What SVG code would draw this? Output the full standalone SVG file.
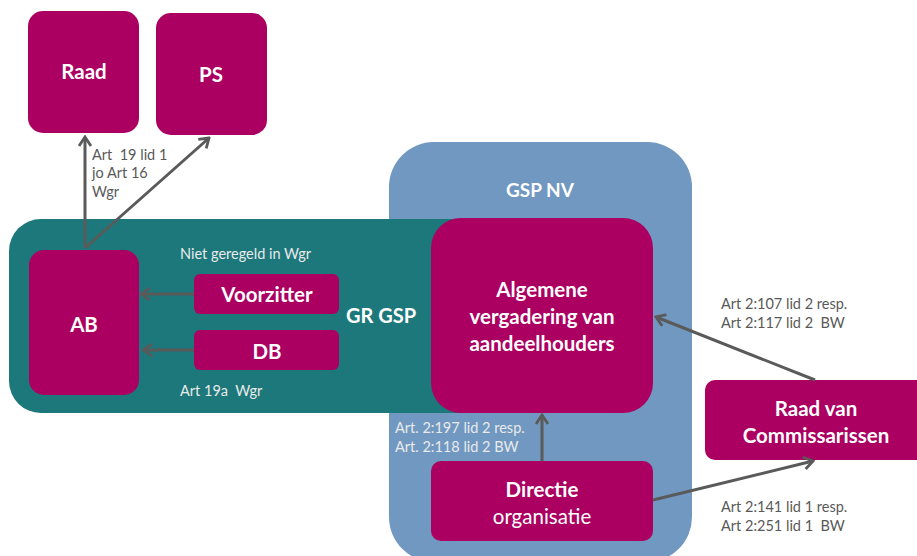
<svg xmlns="http://www.w3.org/2000/svg" width="917" height="556" viewBox="0 0 917 556" xml:space="preserve">
<defs>
<marker id="arr" viewBox="0 0 14 14" refX="12" refY="7" markerWidth="14" markerHeight="14" markerUnits="userSpaceOnUse" orient="auto">
<polyline points="3,1 12,7 3,13" fill="none" stroke="#5a5a5a" stroke-width="2.8"/>
</marker>
<style>
.box{fill:#ab0061}
.t{font-family:Lato,"Liberation Sans",sans-serif;fill:#fff;font-weight:bold;text-anchor:middle}
.lbl{font-family:Lato,"Liberation Sans",sans-serif;font-size:14.5px;fill:#595959;white-space:pre}
.lw{font-family:Lato,"Liberation Sans",sans-serif;font-size:14.5px;fill:#eaeaea;white-space:pre}
.c{fill:none;stroke:#5a5a5a;stroke-width:3;marker-end:url(#arr)}
</style>
</defs>
<rect width="917" height="556" fill="#fff"/>
<g id="gspnv">
<rect x="389" y="142" width="303" height="420" rx="45" fill="#7098c1"/>
<text class="t" x="540" y="197" font-size="19">GSP NV</text>
</g>
<g id="grgsp">
<rect x="9" y="219" width="480" height="194" rx="32" fill="#1c787a"/>
<text class="t" x="381" y="323" font-size="20">GR GSP</text>
<text class="lw" x="180" y="259">Niet geregeld in Wgr</text>
<text class="lw" x="180" y="396">Art 19a  Wgr</text>
</g>
<g id="raad"><rect class="box" x="28" y="11" width="111" height="122" rx="15"/><text class="t" x="84" y="79" font-size="20.5">Raad</text></g>
<g id="ps"><rect class="box" x="156" y="13" width="111" height="122" rx="15"/><text class="t" x="211" y="82" font-size="20.5">PS</text></g>
<g id="ab"><rect class="box" x="29" y="250" width="110" height="145" rx="15"/><text class="t" x="84" y="332" font-size="20.5">AB</text></g>
<g id="voorzitter"><rect class="box" x="194" y="274" width="145" height="40" rx="6"/><text class="t" x="267" y="302" font-size="20.5">Voorzitter</text></g>
<g id="db"><rect class="box" x="194" y="330" width="145" height="40" rx="6"/><text class="t" x="267" y="359" font-size="20.5">DB</text></g>
<g id="ava"><rect class="box" x="431" y="218" width="222" height="195" rx="30"/>
<text class="t" x="542" y="297" font-size="20.5">Algemene</text>
<text class="t" x="542" y="324" font-size="20.5">vergadering van</text>
<text class="t" x="542" y="351" font-size="20.5">aandeelhouders</text></g>
<g id="directie"><rect class="box" x="431" y="461" width="222" height="80" rx="10"/>
<text class="t" x="542" y="497" font-size="20.5">Directie</text>
<text class="t" x="542" y="524" font-size="20.5" style="font-weight:normal">organisatie</text></g>
<g id="rvc"><rect class="box" x="705" y="380" width="230" height="80" rx="10"/>
<text class="t" x="816" y="416" font-size="20.5">Raad van</text>
<text class="t" x="816" y="443" font-size="20.5">Commissarissen</text></g>
<g id="connectors">
<line class="c" x1="85" y1="248" x2="85" y2="137"/>
<line class="c" x1="85" y1="248" x2="209" y2="138"/>
<line class="c" x1="194" y1="294" x2="141" y2="294"/>
<line class="c" x1="194" y1="350" x2="143" y2="350"/>
<line class="c" x1="542" y1="461" x2="542" y2="415"/>
<line class="c" x1="815" y1="380" x2="656" y2="317"/>
<line class="c" x1="653" y1="500" x2="813" y2="461"/>
</g>
<g id="labels">
<text class="lbl" x="92" y="160">Art  19 lid 1</text>
<text class="lbl" x="92" y="178">jo Art 16</text>
<text class="lbl" x="92" y="197">Wgr</text>
<text class="lw" x="395" y="433">Art. 2:197 lid 2 resp.</text>
<text class="lw" x="395" y="452">Art. 2:118 lid 2 BW</text>
<text class="lbl" x="721" y="309">Art 2:107 lid 2 resp.</text>
<text class="lbl" x="721" y="328">Art 2:117 lid 2  BW</text>
<text class="lbl" x="721" y="512">Art 2:141 lid 1 resp.</text>
<text class="lbl" x="721" y="531">Art 2:251 lid 1  BW</text>
</g>
</svg>
